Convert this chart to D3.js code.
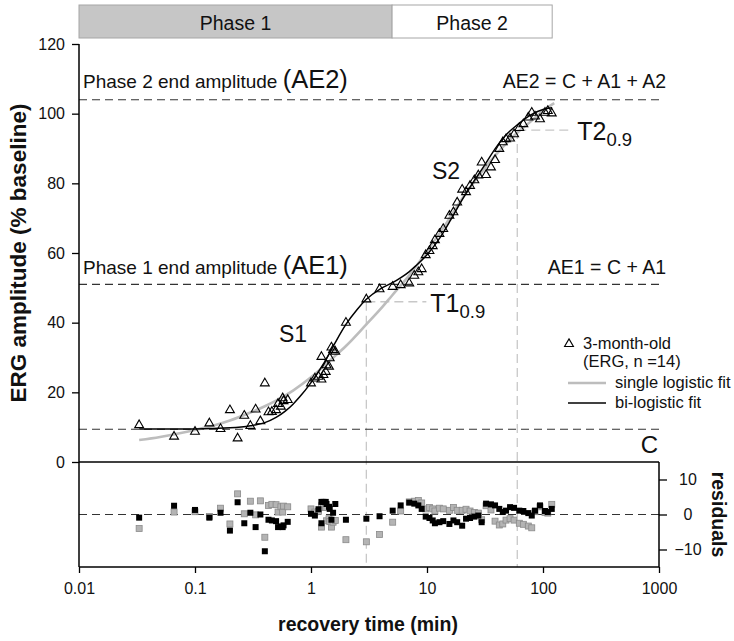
<!DOCTYPE html>
<html><head><meta charset="utf-8">
<script src="https://cdn.jsdelivr.net/npm/d3@7"></script>
<style>
body{margin:0;background:#fff;}
svg{display:block;font-family:"Liberation Sans",Arial,Helvetica,sans-serif;}
</style></head><body>
<svg id="chart" width="734" height="641"></svg>
<script>
// ---- data ----
const timeMin = [0.033,0.066,0.10,0.133,0.166,0.20,0.233,0.266,0.30,0.333,0.366,0.40,0.43,0.46,0.50,0.52,0.55,0.57,0.58,0.63,
  1.00,1.08,1.16,1.23,1.23,1.28,1.34,1.36,1.43,1.45,1.50,1.55,1.62,
  2.0,3.0,3.9,5.06,5.93,7.03,7.77,8.42,9.0,9.75,10.5,11.2,11.7,12.8,13.8,15.6,16.9,18.2,20.1,21.7,23.5,25.6,27.7,29.6,
  32.3,35.6,38.6,42.0,45.0,48.0,52.0,56.3,62.5,67.7,74.7,80.0,85.3,94.2,104,110,119];
const ergAmplitude = [10.6,7.3,8.7,11.1,9.5,14.9,6.8,13.3,10.4,15.1,11.7,22.6,14.3,14.4,14.9,16.7,15.9,18.3,17.5,17.8,
  22.6,24.0,24.5,23.7,30.2,25.0,25.9,27.8,27.4,29.8,32.9,32.2,31.7,
  40.0,46.7,49.6,50.3,50.8,51.3,53.5,54.5,55.4,59.4,60.6,62.0,63.7,65.5,66.9,70.7,71.7,74.5,78.2,77.5,79.3,80.9,82.3,86.0,
  82.4,84.6,86.7,89.9,91.8,92.7,92.9,94.1,95.9,97.0,98.9,100.3,99.2,98.4,100.3,100.8,100.1];
const residualBi = [-0.9,2.5,1.3,-0.9,0.5,-4.6,3.5,-2.5,0.5,-3.6,0.0,-10.5,-1.5,-1.7,-1.9,-3.6,-3.4,-3.6,-3.1,-2.1,
  0.2,-0.3,1.5,3.6,-2.5,3.6,3.6,3.0,2.2,1.6,-1.5,0.5,3.0,
  -1.5,-1.2,-0.5,1.1,2.6,3.4,3.1,2.6,1.6,-0.6,-1.0,-1.7,-2.5,-2.2,-1.9,-2.7,-1.7,-2.2,-3.2,-1.2,-1.0,-0.6,-0.3,-2.2,
  3.1,2.9,2.6,1.6,0.7,1.1,2.1,1.9,1.1,1.0,0.4,-0.3,1.1,2.6,1.0,0.7,1.6];
const residualSingle = [-4.0,0.7,0.8,-0.6,1.8,-2.7,5.9,0.2,3.8,-0.1,3.9,-6.5,2.6,2.9,2.8,0.7,2.2,0.7,2.4,2.2,
  1.6,0.7,0.9,2.5,-3.6,2.0,2.0,-1.8,-1.2,-2.0,-3.6,-2.2,-1.7,
  -7.2,-7.8,-5.7,-2.2,1.0,3.6,3.8,4.0,3.3,1.6,2.0,1.6,1.0,1.8,1.6,1.2,2.0,1.2,1.2,1.5,1.0,0.6,0.4,-1.5,
  2.5,1.3,-1.9,-3.0,-2.7,-1.6,-1.2,-1.6,-2.5,-2.8,-3.3,-3.8,0.8,2.2,0.6,0.4,2.9];
const singleFitTime  = [0.033,0.05,0.07,0.1,0.15,0.2,0.3,0.4,0.5,0.7,1.0,1.5,2.0,3.0,4.0,5.0,7.0,10,15,20,30,40,60,80,100,125];
const singleFitValue = [6.3,7.2,8.1,9.2,10.6,11.9,14.2,16.0,17.6,20.5,24.3,29.5,33.3,39.5,44.0,47.8,53.5,60.5,69.0,75.5,83.5,88.5,94.5,98.0,100.8,103.0];
const biFitTime  = [0.033,0.1,0.2,0.3,0.4,0.5,0.6,0.7,0.8,1.0,1.3,1.6,2.0,2.5,3.0,4.0,5.0,6.0,7.0,8.0,10,13,16,20,25,30,40,50,60,80,100,120];
const biFitValue = [9.5,9.5,9.8,10.4,11.3,12.8,14.6,16.6,18.7,22.8,28.5,34.0,39.5,43.8,46.7,49.8,51.4,53.0,54.6,56.3,59.5,64.5,69.5,75.2,80.3,84.2,90.6,94.5,96.8,99.8,101.2,101.7];
const xTickValues = [0.01,0.1,1,10,100,1000];
const xTickLabels = ["0.01","0.1","1","10","100","1000"];
const yTickValues = [0,20,40,60,80,100,120];
const residTickValues = [-10,0,10];
const phaseNames = ["Phase 1","Phase 2"];
const phaseStart = [0.01,5];
const phaseEnd = [5,120];
const levelC = 9.4, levelAE1 = 51, levelAE2 = 104;
const t1Time = 3, t1Level = 46, t2Time = 60, t2Level = 95.3;

// ---- scales ----
const svg = d3.select("#chart");
const x = d3.scaleLog().domain([0.01,1000]).range([79,659]);
const y = d3.scaleLinear().domain([0,120]).range([462,44]);
const yr = d3.scaleLinear().domain([-15,15]).range([567,462]);
const X0 = x.range()[0], X1 = x.range()[1];

// ---- phase bars ----
phaseNames.forEach((name,i)=>{
  svg.append("rect").attr("x",x(phaseStart[i])).attr("y",5)
    .attr("width",x(phaseEnd[i])-x(phaseStart[i])).attr("height",33)
    .attr("fill", i===0 ? "#c6c6c6" : "#fff").attr("stroke","#a6a6a6").attr("stroke-width",1);
  svg.append("text").attr("x",(x(phaseStart[i])+x(phaseEnd[i]))/2).attr("y",30)
    .attr("text-anchor","middle").attr("font-size",19.5).attr("fill","#111").text(name);
});

// ---- light gray T lines ----
const gray = "#c8c8c8";
function gline(x1,y1,x2,y2){
  svg.append("line").attr("x1",x1).attr("y1",y1).attr("x2",x2).attr("y2",y2)
    .attr("stroke",gray).attr("stroke-width",1.3).attr("stroke-dasharray","9,5");
}
gline(x(t1Time), y(t1Level), x(t1Time), yr(-15));
gline(x(t1Time), y(t1Level), x(t1Time)+60, y(t1Level));
gline(x(t2Time), y(t2Level), x(t2Time), yr(-15));
gline(x(t2Time), y(t2Level), x(t2Time)+56, y(t2Level));

// ---- black dashed level lines ----
[levelAE2, levelAE1, levelC].forEach(v=>{
  svg.append("line").attr("x1",X0).attr("x2",X1).attr("y1",y(v)).attr("y2",y(v))
    .attr("stroke","#333").attr("stroke-width",1.2).attr("stroke-dasharray","8,5");
});
svg.append("line").attr("x1",X0).attr("x2",X1).attr("y1",yr(0)).attr("y2",yr(0))
  .attr("stroke","#333").attr("stroke-width",1.2).attr("stroke-dasharray","8,5");

// ---- fit curves ----
const line = d3.line().x(d=>x(d[0])).y(d=>y(d[1])).curve(d3.curveMonotoneX);
svg.append("path").attr("d", line(singleFitTime.map((t,i)=>[t,singleFitValue[i]])))
  .attr("fill","none").attr("stroke","#bdbdbd").attr("stroke-width",2.6);
svg.append("path").attr("d", line(biFitTime.map((t,i)=>[t,biFitValue[i]])))
  .attr("fill","none").attr("stroke","#000").attr("stroke-width",1.5);

// ---- data triangles ----
const tri = d3.symbol().type(d3.symbolTriangle).size(34);
svg.append("g").selectAll("path").data(timeMin).join("path")
  .attr("d",tri).attr("transform",(t,i)=>`translate(${x(t)},${y(ergAmplitude[i])})`)
  .attr("fill","none").attr("stroke","#000").attr("stroke-width",1.1);

// ---- residual squares ----
const sq = 6;
svg.append("g").selectAll("rect").data(timeMin).join("rect")
  .attr("x",t=>x(t)-sq/2).attr("y",(t,i)=>yr(residualSingle[i])-sq/2)
  .attr("width",sq).attr("height",sq).attr("fill","#b4b4b4").attr("stroke","#8a8a8a").attr("stroke-width",0.8);
svg.append("g").selectAll("rect").data(timeMin).join("rect")
  .attr("x",t=>x(t)-sq/2).attr("y",(t,i)=>yr(residualBi[i])-sq/2)
  .attr("width",sq).attr("height",sq).attr("fill","#000");

// ---- axes ----
const axisStyle = g=>{ g.selectAll("text").attr("font-size",16).attr("fill","#111").attr("font-family",null);
  g.selectAll("line").attr("stroke","#000").attr("stroke-width",1.3); g.attr("font-family",null); };
svg.append("g").attr("transform",`translate(${X0},0)`)
  .call(d3.axisLeft(y).tickValues(yTickValues).tickSize(7).tickPadding(7))
  .call(g=>g.select(".domain").remove()).call(axisStyle);
svg.append("g").attr("transform",`translate(0,${yr(-15)})`)
  .call(d3.axisBottom(x).tickValues(xTickValues).tickFormat((d,i)=>xTickLabels[i]).tickSize(6).tickPadding(10))
  .call(g=>g.select(".domain").remove()).call(axisStyle);
svg.append("g").attr("transform",`translate(${X1},0)`)
  .call(d3.axisRight(yr).tickValues(residTickValues).tickSize(8).tickPadding(0))
  .call(g=>g.select(".domain").remove()).call(axisStyle)
  .call(g=>g.selectAll("text").attr("text-anchor","middle").attr("x",29));
// frame lines
const frame = (x1,y1,x2,y2)=>svg.append("line").attr("x1",x1).attr("y1",y1).attr("x2",x2).attr("y2",y2)
  .attr("stroke","#000").attr("stroke-width",1.5);
frame(X0, y(120), X0, yr(-15));
frame(X0, y(0), X1, y(0));
frame(X1, yr(15), X1, yr(-15));
frame(X0, yr(-15), X1, yr(-15));

// ---- axis titles ----
svg.append("text").attr("transform",`translate(26,${(y(0)+y(120))/2}) rotate(-90)`)
  .attr("text-anchor","middle").attr("font-size",22.5).attr("font-weight","bold").attr("fill","#111")
  .text("ERG amplitude (% baseline)");
svg.append("text").attr("x",368).attr("y",631).attr("text-anchor","middle")
  .attr("font-size",19.5).attr("font-weight","bold").attr("fill","#111").text("recovery time (min)");
svg.append("text").attr("transform",`translate(712,${yr(0)}) rotate(90)`)
  .attr("text-anchor","middle").attr("font-size",19.5).attr("font-weight","bold").attr("fill","#111").text("residuals");

// ---- annotations ----
function ann(xp,yp,size,str,anchor){
  return svg.append("text").attr("x",xp).attr("y",yp).attr("font-size",size).attr("fill","#111")
    .attr("text-anchor",anchor||"start").text(str);
}
const a2 = svg.append("text").attr("x",83).attr("y",y(levelAE2)-12).attr("fill","#111").attr("font-size",19);
a2.append("tspan").text("Phase 2 end amplitude ");
a2.append("tspan").attr("font-size",25.5).text("(AE2)");
const a1 = svg.append("text").attr("x",83).attr("y",y(levelAE1)-10).attr("fill","#111").attr("font-size",19);
a1.append("tspan").text("Phase 1 end amplitude ");
a1.append("tspan").attr("font-size",25.5).text("(AE1)");
ann(666, y(levelAE2)-12, 19.5, "AE2 = C + A1 + A2", "end");
ann(666, y(levelAE1)-10, 19.5, "AE1 = C + A1", "end");
ann(658, y(levelC)+24, 24, "C", "end");
ann(279, 342, 23, "S1");
ann(432, 179, 23, "S2");
function tlab(xp,yp,main){
  const t = svg.append("text").attr("x",xp).attr("y",yp).attr("fill","#111").attr("font-size",25);
  t.append("tspan").text(main);
  t.append("tspan").attr("font-size",18.5).attr("dy",6).text("0.9");
}
tlab(x(t1Time)+64, y(t1Level)+10, "T1");
tlab(x(t2Time)+60, y(t2Level)+10, "T2");

// ---- legend ----
svg.append("path").attr("d",tri).attr("transform","translate(569,344)")
  .attr("fill","none").attr("stroke","#000").attr("stroke-width",1.1);
ann(583, 349, 16.5, "3-month-old");
ann(583, 367, 16.5, "(ERG, n =14)");
svg.append("line").attr("x1",568).attr("x2",606).attr("y1",383).attr("y2",383).attr("stroke","#bdbdbd").attr("stroke-width",2.6);
ann(615, 387.5, 16.5, "single logistic fit");
svg.append("line").attr("x1",568).attr("x2",606).attr("y1",403).attr("y2",403).attr("stroke","#000").attr("stroke-width",1.5);
ann(615, 407.5, 16.5, "bi-logistic fit");
</script>
</body></html>
